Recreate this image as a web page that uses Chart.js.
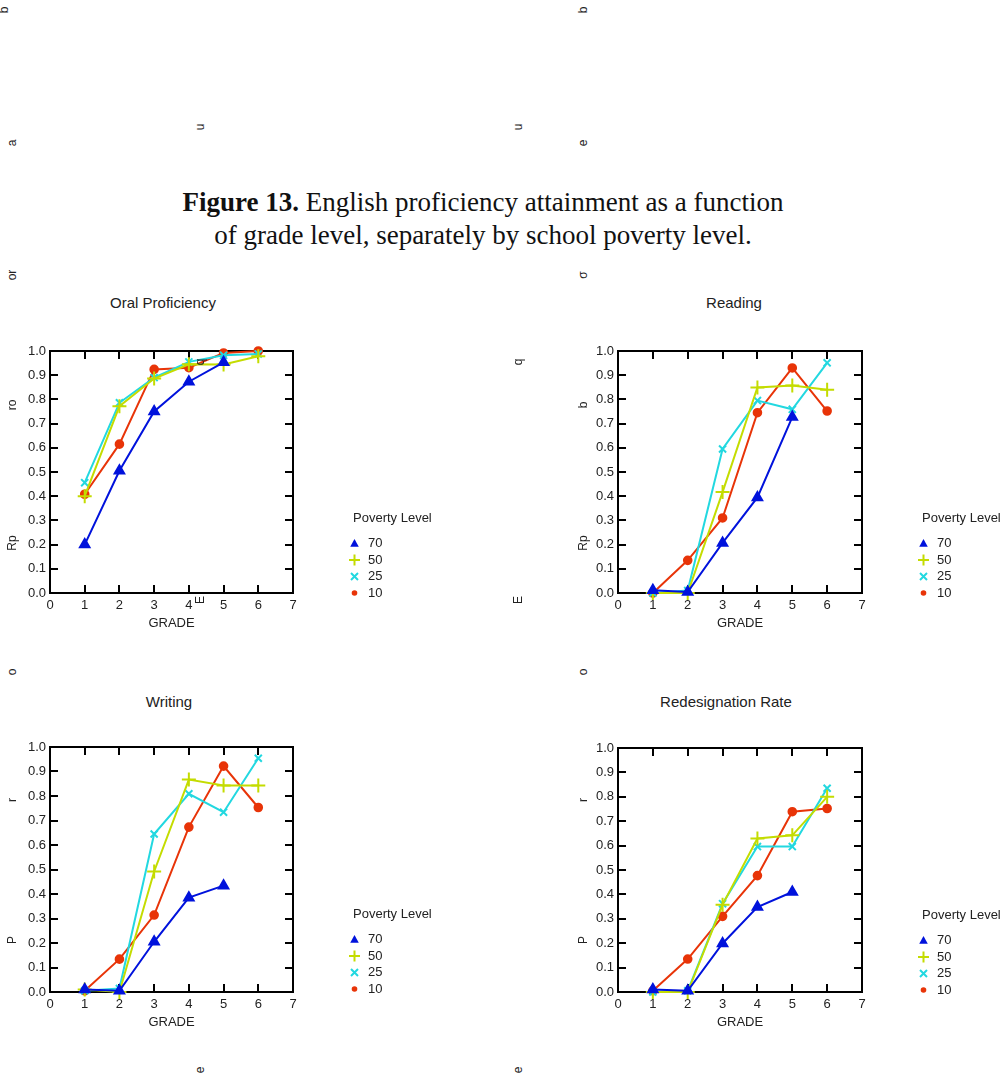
<!DOCTYPE html>
<html><head><meta charset="utf-8">
<script src="https://cdn.jsdelivr.net/npm/chart.js@4.4.0/dist/chart.umd.min.js"></script>
<style>
html,body{margin:0;padding:0;overflow:hidden;background:#fff;width:1003px;height:1081px;position:relative}
canvas{position:absolute}
.t{position:absolute;font-family:"Liberation Sans",Arial,sans-serif;font-size:15px;color:#222;white-space:nowrap;transform:translate(-50%,-50%)}
#fig{position:absolute;left:0;width:966px;top:186px;text-align:center;font-family:"Liberation Serif","Times New Roman",serif;font-size:27px;line-height:33px;color:#111}
.s{position:absolute;font-family:"Liberation Sans",Arial,sans-serif;font-size:12px;color:#222;transform:translate(-50%,-50%) rotate(-90deg)}
</style>
</head><body>
<div id="fig"><b>Figure 13.</b> English proficiency attainment as a function<br>of grade level, separately by school poverty level.</div>
<script>
// ---- data ----
const grades = [1, 2, 3, 4, 5, 6];
const povertyLevels = ["70", "50", "25", "10"];
const xTicks = [0, 1, 2, 3, 4, 5, 6, 7];
const yTicks = [0.0, 0.1, 0.2, 0.3, 0.4, 0.5, 0.6, 0.7, 0.8, 0.9, 1.0];
const panelTitles = ["Oral Proficiency", "Reading", "Writing", "Redesignation Rate"];
const legendTitle = "Poverty Level";
const xTitle = "GRADE";

const oral70 = [0.20, 0.505, 0.75, 0.873, 0.953];
const oral50 = [0.40, 0.772, 0.886, 0.945, 0.944, 0.978];
const oral25 = [0.456, 0.786, 0.89, 0.955, 0.982, 0.988];
const oral10 = [0.408, 0.615, 0.924, 0.931, 0.992, 1.0];

const read70 = [0.011, 0.004, 0.207, 0.395, 0.727];
const read50 = [0.0, 0.0, 0.417, 0.849, 0.857, 0.84];
const read25 = [0.0, 0.01, 0.595, 0.795, 0.759, 0.951];
const read10 = [0.0, 0.135, 0.31, 0.745, 0.93, 0.752];

const write70 = [0.01, 0.005, 0.205, 0.385, 0.434];
const write50 = [0.01, 0.0, 0.492, 0.867, 0.843, 0.843];
const write25 = [0.005, 0.014, 0.645, 0.809, 0.734, 0.954];
const write10 = [0.005, 0.134, 0.314, 0.673, 0.922, 0.753];

const redes70 = [0.01, 0.005, 0.199, 0.348, 0.41];
const redes50 = [0.0, 0.0, 0.358, 0.629, 0.642, 0.80];
const redes25 = [0.0, 0.005, 0.362, 0.596, 0.596, 0.835];
const redes10 = [0.005, 0.135, 0.31, 0.477, 0.739, 0.752];

// ---- styles ----
const colors = ["#0012dc", "#c4dc00", "#22d8e0", "#e83408"];
const styles = ["triangle", "cross", "crossRot", "circle"];
const radii = [5.5, 7, 5, 3.8];
const FONT = '"Liberation Sans", Arial, sans-serif';

const panels = [
  {series: [oral70, oral50, oral25, oral10], left: 50, right: 293, top: 351, bottom: 593},
  {series: [read70, read50, read25, read10], left: 618, right: 862, top: 351, bottom: 593},
  {series: [write70, write50, write25, write10], left: 50, right: 293, top: 747, bottom: 992},
  {series: [redes70, redes50, redes25, redes10], left: 618, right: 862, top: 748, bottom: 992}
];
const titlePos = [[163, 302], [734, 302], [169, 701], [726, 701]];

function drawSymbol(ctx, style, x, y, r, color) {
  ctx.save();
  ctx.fillStyle = color; ctx.strokeStyle = color; ctx.lineWidth = 2;
  ctx.beginPath();
  if (style === "triangle") {
    ctx.moveTo(x, y - r); ctx.lineTo(x + r * 0.95, y + r * 0.7); ctx.lineTo(x - r * 0.95, y + r * 0.7); ctx.closePath(); ctx.fill();
  } else if (style === "cross") {
    ctx.moveTo(x - r, y); ctx.lineTo(x + r, y); ctx.moveTo(x, y - r); ctx.lineTo(x, y + r); ctx.stroke();
  } else if (style === "crossRot") {
    ctx.moveTo(x - r, y - r); ctx.lineTo(x + r, y + r); ctx.moveTo(x + r, y - r); ctx.lineTo(x - r, y + r); ctx.stroke();
  } else {
    ctx.arc(x, y, r, 0, Math.PI * 2); ctx.fill();
  }
  ctx.restore();
}

const framePlugin = {
  id: "frame",
  beforeDatasetsDraw(chart) {
    const {ctx, chartArea: a, scales} = chart;
    ctx.save();
    ctx.strokeStyle = "#000"; ctx.lineWidth = 2;
    ctx.strokeRect(a.left, a.top, a.right - a.left, a.bottom - a.top);
    const L = 8;
    ctx.beginPath();
    scales.x.ticks.forEach(t => {
      if (t.value <= 0 || t.value >= 7) return;
      const px = Math.round(scales.x.getPixelForValue(t.value));
      ctx.moveTo(px, a.bottom); ctx.lineTo(px, a.bottom - L);
      ctx.moveTo(px, a.top); ctx.lineTo(px, a.top + L);
    });
    scales.y.ticks.forEach(t => {
      if (t.value <= 0 || t.value >= 1) return;
      const py = Math.round(scales.y.getPixelForValue(t.value));
      ctx.moveTo(a.left, py); ctx.lineTo(a.left + L, py);
      ctx.moveTo(a.right, py); ctx.lineTo(a.right - L, py);
    });
    ctx.stroke();
    ctx.restore();
  },
  afterDraw(chart) {
    const {ctx, chartArea: a} = chart;
    ctx.save();
    ctx.font = "13px " + FONT; ctx.fillStyle = "#222"; ctx.textBaseline = "middle"; ctx.textAlign = "left";
    const lx = a.right + 60;
    ctx.fillText(legendTitle, lx, a.top + 167);
    const rowY = [192.5, 209, 225.5, 242];
    const legR = [4.5, 5.5, 3.5, 2.8];
    povertyLevels.forEach((lab, i) => {
      const y = a.top + rowY[i];
      drawSymbol(ctx, styles[i], a.right + 61.5, y, legR[i], colors[i]);
      ctx.fillStyle = "#222";
      ctx.fillText(lab, a.right + 75, y);
    });
    ctx.restore();
  }
};

const W = 460;
panels.forEach((p, idx) => {
  const cv = document.createElement("canvas");
  const cLeft = p.left - 50, cTop = p.top - 21;
  const H = (p.bottom - p.top) + 21 + 57;
  cv.width = W; cv.height = H;
  cv.style.left = cLeft + "px"; cv.style.top = cTop + "px";
  cv.style.width = W + "px"; cv.style.height = H + "px";
  document.body.appendChild(cv);

  const datasets = p.series.map((vals, i) => ({
    label: povertyLevels[i],
    data: vals.map((v, k) => ({x: grades[k], y: v})),
    showLine: true,
    borderColor: colors[i],
    backgroundColor: colors[i],
    borderWidth: 2,
    pointStyle: styles[i],
    pointRadius: radii[i],
    pointBorderWidth: 2,
    pointBorderColor: colors[i],
    pointBackgroundColor: colors[i],
    clip: false,
    tension: 0
  }));

  new Chart(cv, {
    type: "scatter",
    data: {datasets},
    options: {
      responsive: false, animation: false, devicePixelRatio: 1,
      layout: {padding: {top: 21, left: 0, bottom: 19, right: W - (p.right - cLeft)}},
      plugins: {legend: {display: false}, tooltip: {enabled: false}, title: {display: false}},
      scales: {
        x: {
          type: "linear", min: 0, max: 7,
          afterBuildTicks: s => { s.ticks = xTicks.map(v => ({value: v})); },
          afterFit: s => { s.height = 38; },
          grid: {display: false, drawTicks: false}, border: {display: false},
          ticks: {font: {family: FONT, size: 13}, color: "#222", padding: 5, maxRotation: 0, callback: v => String(v)},
          title: {display: true, text: xTitle, font: {family: FONT, size: 13}, color: "#222", padding: {top: 0, bottom: 0}}
        },
        y: {
          type: "linear", min: 0, max: 1,
          afterBuildTicks: s => { s.ticks = yTicks.map(v => ({value: v})); },
          afterFit: s => { s.width = 50; },
          grid: {display: false, drawTicks: false}, border: {display: false},
          ticks: {font: {family: FONT, size: 13}, color: "#222", padding: 4, callback: v => Number(v).toFixed(1)}
        }
      }
    },
    plugins: [framePlugin]
  });

  const t = document.createElement("div");
  t.className = "t"; t.textContent = panelTitles[idx];
  t.style.left = titlePos[idx][0] + "px"; t.style.top = titlePos[idx][1] + "px";
  document.body.appendChild(t);
});

// stray rotated glyphs present in the source page
const strays = [["b",4,10],["b",583,10],["u",200,127],["u",518,127],["a",12,143],["e",583,143],
  ["or",12,275],["σ",583,275],["ro",12,405],["b",583,405],["q",200,362],["q",518,362],
  ["Rp",12,543],["Rp",583,543],["E",200,600],["E",518,600],["o",12,672],["o",583,672],
  ["r",12,800],["r",583,800],["P",12,940],["P",583,940],["e",200,1070],["e",518,1070]];
strays.forEach(([s, x, y]) => {
  const d = document.createElement("div");
  d.className = "s"; d.textContent = s; d.style.left = x + "px"; d.style.top = y + "px";
  document.body.appendChild(d);
});
</script>
</body></html>
